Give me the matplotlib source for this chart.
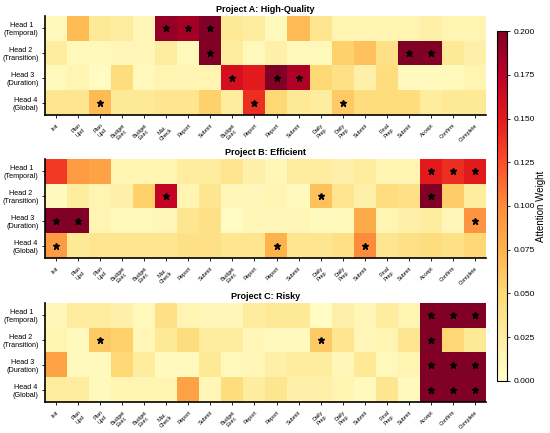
import numpy as np
import matplotlib
matplotlib.use('Agg')
import matplotlib.pyplot as plt

plt.rcParams['font.family'] = ['Liberation Sans', 'DejaVu Sans']

steps = ['Init', 'Plan\nUpd', 'Plan\nUpd', 'Budget\nExec', 'Budget\nExec', 'Mat.\nCheck',
         'Report', 'Submit', 'Budget\nExec', 'Report', 'Report', 'Submit', 'Daily\nPrep',
         'Daily\nPrep', 'Submit', 'Final\nPrep', 'Submit', 'Accept', 'Confirm', 'Complete']
heads = ['Head 1\n(Temporal)', 'Head 2\n(Transition)', 'Head 3\n(Duration)', 'Head 4\n(Global)']
titles = ['Project A: High-Quality', 'Project B: Efficient', 'Project C: Risky']

# attention weights, rows = heads, cols = steps
attnA = [
    [0.010, 0.070, 0.030, 0.025, 0.012, 0.190, 0.185, 0.200, 0.030, 0.025, 0.010, 0.070, 0.035, 0.015, 0.015, 0.015, 0.015, 0.020, 0.015, 0.015],
    [0.025, 0.010, 0.010, 0.012, 0.012, 0.025, 0.010, 0.200, 0.025, 0.010, 0.020, 0.010, 0.010, 0.055, 0.065, 0.040, 0.200, 0.200, 0.030, 0.020],
    [0.010, 0.015, 0.005, 0.045, 0.010, 0.015, 0.015, 0.015, 0.160, 0.150, 0.200, 0.180, 0.050, 0.040, 0.020, 0.045, 0.008, 0.008, 0.010, 0.015],
    [0.035, 0.035, 0.070, 0.030, 0.030, 0.035, 0.035, 0.055, 0.025, 0.140, 0.050, 0.030, 0.025, 0.060, 0.045, 0.045, 0.045, 0.025, 0.030, 0.030],
]
attnB = [
    [0.135, 0.090, 0.085, 0.015, 0.015, 0.015, 0.025, 0.025, 0.035, 0.020, 0.012, 0.025, 0.025, 0.020, 0.025, 0.015, 0.015, 0.150, 0.140, 0.150],
    [0.008, 0.025, 0.015, 0.020, 0.055, 0.170, 0.015, 0.035, 0.012, 0.012, 0.015, 0.008, 0.065, 0.035, 0.020, 0.045, 0.040, 0.200, 0.058, 0.025],
    [0.200, 0.200, 0.015, 0.010, 0.010, 0.012, 0.035, 0.040, 0.005, 0.012, 0.012, 0.012, 0.008, 0.010, 0.080, 0.015, 0.020, 0.025, 0.012, 0.095],
    [0.090, 0.030, 0.035, 0.035, 0.035, 0.035, 0.040, 0.040, 0.035, 0.035, 0.075, 0.035, 0.035, 0.040, 0.100, 0.035, 0.040, 0.045, 0.040, 0.050],
]
attnC = [
    [0.012, 0.025, 0.025, 0.020, 0.010, 0.040, 0.015, 0.012, 0.012, 0.025, 0.030, 0.030, 0.005, 0.020, 0.012, 0.025, 0.015, 0.200, 0.200, 0.200],
    [0.015, 0.008, 0.060, 0.055, 0.012, 0.030, 0.045, 0.025, 0.025, 0.012, 0.008, 0.008, 0.060, 0.035, 0.012, 0.015, 0.035, 0.200, 0.050, 0.030],
    [0.085, 0.008, 0.008, 0.050, 0.025, 0.008, 0.008, 0.030, 0.010, 0.012, 0.020, 0.025, 0.025, 0.012, 0.030, 0.010, 0.015, 0.200, 0.200, 0.200],
    [0.025, 0.025, 0.008, 0.015, 0.015, 0.015, 0.085, 0.012, 0.045, 0.025, 0.035, 0.020, 0.020, 0.015, 0.008, 0.035, 0.008, 0.200, 0.200, 0.200],
]
projects = [attnA, attnB, attnC]

fig = plt.figure(figsize=(5.5, 4.33), dpi=100)
bottoms = [0.7344, 0.4042, 0.0716]

for data, title, b in zip(projects, titles, bottoms):
    ax = fig.add_axes([0.0818, b, 0.8018, 0.2286])
    arr = np.array(data)
    im = ax.imshow(arr, cmap='YlOrRd', vmin=0, vmax=0.2, aspect='auto', interpolation='nearest')
    # star the top-3 cells of each head
    for r in range(arr.shape[0]):
        top = np.argsort(arr[r])[-3:]
        for c in top:
            ax.plot(c, r, marker='*', color='black', markersize=4.5, linestyle='none')
    ax.set_xticks(range(len(steps)))
    ax.set_xticklabels(steps, rotation=45, ha='right', rotation_mode='anchor',
                       fontsize=4.0, multialignment='center')
    ax.set_yticks(range(len(heads)))
    ax.set_yticklabels(heads, fontsize=5.2, multialignment='center')
    ax.set_title(title, fontsize=6.5, fontweight='bold', pad=3)
    ax.spines['top'].set_visible(False)
    ax.spines['right'].set_visible(False)
    ax.spines['left'].set_linewidth(1.2)
    ax.spines['bottom'].set_linewidth(1.2)
    ax.tick_params(axis='both', length=2.5, width=0.6, pad=2)
    ax.tick_params(axis='x', pad=3)

cax = fig.add_axes([0.9036, 0.1201, 0.0182, 0.8083])
cb = fig.colorbar(im, cax=cax)
cb.set_ticks(np.arange(0, 0.2001, 0.025))
cb.ax.set_yticklabels(['%.3f' % t for t in np.arange(0, 0.2001, 0.025)], fontsize=6)
cb.set_label('Attention Weight', fontsize=7, labelpad=1)
cb.ax.tick_params(length=2.5, width=0.6, pad=2)
cb.outline.set_linewidth(0.8)

plt.savefig('out.png', dpi=100)
